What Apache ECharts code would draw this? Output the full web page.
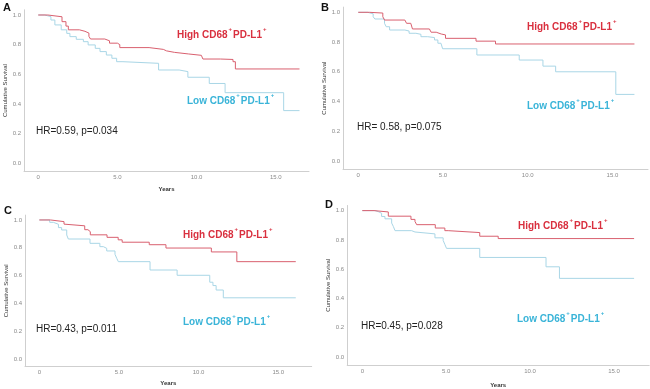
<!DOCTYPE html>
<html><head><meta charset="utf-8">
<script src="https://cdn.jsdelivr.net/npm/echarts@6/dist/echarts.min.js"></script>
<style>html,body{margin:0;padding:0;background:#fff}#c{width:650px;height:389px}</style>
</head><body><div id="c"></div>
<script>
// ---- data (time in years, cumulative survival) ----
const xTicks = [0, 5, 10, 15];
const yTicks = [0, 0.2, 0.4, 0.6, 0.8, 1.0];
const panelLetters = ['A', 'B', 'C', 'D'];
const hrTexts = ['HR=0.59, p=0.034', 'HR= 0.58, p=0.075', 'HR=0.43, p=0.011', 'HR=0.45, p=0.028'];

const A_high = [[0,1],[0.6,0.988],[1.5,0.955],[1.75,0.925],[1.9,0.9],[2.6,0.89],[2.95,0.878],[3.2,0.856],[3.3,0.838],[4.2,0.826],[4.5,0.81],[5.0,0.8],[5.15,0.78],[7.0,0.768],[7.9,0.758],[8.1,0.748],[8.6,0.737],[9.5,0.728],[10.3,0.718],[10.4,0.703],[11.5,0.7],[12.3,0.685],[12.45,0.636],[16.5,0.636]];
const A_low = [[0,1],[0.4,0.989],[0.8,0.966],[1.05,0.933],[1.45,0.9],[1.8,0.876],[2.0,0.854],[2.4,0.836],[2.85,0.82],[3.15,0.798],[3.6,0.775],[3.9,0.753],[4.3,0.73],[4.65,0.708],[4.95,0.685],[5.35,0.674],[7.6,0.629],[8.9,0.618],[9.45,0.58],[10.8,0.538],[11.8,0.476],[15.5,0.355],[16.5,0.355]];
const B_high = [[0,1],[0.65,0.995],[1.45,0.97],[1.55,0.948],[2.75,0.937],[2.85,0.926],[3.1,0.915],[3.2,0.888],[4.2,0.881],[4.3,0.866],[4.6,0.854],[4.9,0.848],[5.15,0.825],[6.95,0.806],[8.1,0.787],[16.3,0.787]];
const B_low = [[0,1],[0.55,0.99],[0.88,0.97],[0.98,0.955],[1.55,0.926],[1.65,0.903],[1.85,0.881],[2.75,0.874],[3.0,0.859],[3.4,0.852],[3.7,0.836],[4.1,0.83],[4.5,0.814],[4.7,0.792],[4.88,0.781],[4.98,0.755],[7.0,0.713],[9.5,0.679],[10.9,0.638],[11.65,0.6],[15.2,0.448],[16.3,0.448]];
const C_high = [[0,1],[0.7,0.988],[1.55,0.97],[1.65,0.958],[2.85,0.93],[3.05,0.916],[3.2,0.893],[4.25,0.875],[4.95,0.857],[5.2,0.84],[6.9,0.822],[7.95,0.798],[10.8,0.77],[12.4,0.7],[16.1,0.7]];
const C_low = [[0,1],[0.65,0.983],[0.88,0.969],[1.2,0.945],[1.4,0.928],[1.72,0.892],[1.82,0.863],[3.18,0.832],[3.8,0.808],[4.02,0.796],[4.23,0.777],[4.75,0.753],[4.86,0.724],[4.96,0.7],[6.95,0.64],[8.65,0.602],[10.7,0.552],[10.9,0.528],[11.1,0.496],[11.55,0.44],[16.1,0.44]];
const D_high = [[0,1],[0.7,0.991],[1.55,0.962],[2.9,0.94],[3.14,0.926],[3.24,0.904],[4.35,0.881],[4.92,0.863],[5.12,0.85],[7.0,0.825],[8.1,0.809],[16.2,0.809]];
const D_low = [[0,1],[0.76,0.993],[0.95,0.982],[1.15,0.96],[1.35,0.944],[1.75,0.915],[1.85,0.892],[1.95,0.863],[2.94,0.854],[3.14,0.841],[4.33,0.814],[4.82,0.796],[4.92,0.769],[5.02,0.742],[7.0,0.68],[10.95,0.616],[11.75,0.537],[16.2,0.537]];

const highSeries = [A_high, B_high, C_high, D_high];
const lowSeries = [A_low, B_low, C_low, D_low];

// ---- layout / style ----
const FONT = 'Arial, "Liberation Sans", sans-serif';
const HIGH_LINE = '#d9606f', LOW_LINE = '#a9d6e6';
const HIGH_TXT = '#d9303f', LOW_TXT = '#3ab4d8';
const grids = [
  {left: 24, top: 9.8, width: 285, height: 161.6},
  {left: 343, top: 7.1, width: 305, height: 162.1},
  {left: 25, top: 215.1, width: 286.7, height: 151.5},
  {left: 347.2, top: 205.5, width: 302, height: 161.6}
];
const showYears = [true, false, true, true];
const yearsGap = [15, 15, 14, 17];
const letterPos = [[3, 2], [321, 2], [4, 205], [325, 199]];
const highPos = [[177, 33], [527, 25], [183, 233], [518, 224]];
const lowPos = [[187, 99], [527, 104], [183, 320], [517, 317]];
const hrPos = [[36, 132], [357, 128], [36, 330], [361, 327]];

function richLabel(word, color) {
  return {
    text: '{a|' + word + ' CD68}{s|+}{a|PD-L1}{s|+}',
    rich: {
      a: {fontFamily: FONT, fontSize: 10, fontWeight: 'bold', fill: color, color: color, lineHeight: 14, verticalAlign: 'bottom'},
      s: {fontFamily: FONT, fontSize: 6, fontWeight: 'bold', fill: color, color: color, lineHeight: 14, verticalAlign: 'top', padding: [0, 1, 0, 1]}
    }
  };
}

const option = {
  animation: false,
  backgroundColor: '#fff',
  grid: grids.map(g => Object.assign({containLabel: false}, g)),
  xAxis: grids.map((g, i) => ({
    type: 'value', gridIndex: i, min: -0.9, max: 17.1,
    name: showYears[i] ? 'Years' : '', nameLocation: 'middle', nameGap: yearsGap[i],
    nameTextStyle: {fontFamily: FONT, fontSize: 6, fontWeight: 'bold', color: '#333'},
    axisLine: {show: true, onZero: false, lineStyle: {color: '#cfcfcf', width: 1}},
    axisTick: {show: false},
    splitLine: {show: false},
    axisLabel: {customValues: xTicks, fontFamily: FONT, fontSize: 6, color: '#8a8a8a', margin: 3,
      formatter: v => v === 0 ? '0' : v.toFixed(1)}
  })),
  yAxis: grids.map((g, i) => ({
    type: 'value', gridIndex: i, min: -0.055, max: 1.035,
    name: 'Cumulative Survival', nameLocation: 'middle', nameGap: 16, nameRotate: 90,
    nameTextStyle: {fontFamily: FONT, fontSize: 6, color: '#333'},
    axisLine: {show: true, onZero: false, lineStyle: {color: '#cfcfcf', width: 1}},
    axisTick: {show: false},
    splitLine: {show: false},
    axisLabel: {customValues: yTicks, fontFamily: FONT, fontSize: 6, color: '#8a8a8a', margin: 3,
      formatter: v => v.toFixed(1)}
  })),
  series: [].concat(
    highSeries.map((d, i) => ({type: 'line', xAxisIndex: i, yAxisIndex: i, step: 'end', data: d,
      symbol: 'none', lineStyle: {color: HIGH_LINE, width: 1}, z: 3})),
    lowSeries.map((d, i) => ({type: 'line', xAxisIndex: i, yAxisIndex: i, step: 'end', data: d,
      symbol: 'none', lineStyle: {color: LOW_LINE, width: 1}, z: 2}))
  ),
  graphic: [].concat(
    panelLetters.map((t, i) => ({type: 'text', left: letterPos[i][0], top: letterPos[i][1],
      style: {text: t, font: 'bold 11px ' + FONT, fill: '#111'}})),
    hrTexts.map((t, i) => ({type: 'text', left: hrPos[i][0], top: hrPos[i][1] - 6,
      style: {text: t, font: '10px ' + FONT, fill: '#222'}})),
    highPos.map((p, i) => ({type: 'text', left: p[0], top: p[1] - 7, style: richLabel('High', HIGH_TXT)})),
    lowPos.map((p, i) => ({type: 'text', left: p[0], top: p[1] - 7, style: richLabel('Low', LOW_TXT)}))
  )
};
const chart = echarts.init(document.getElementById('c'), null, {renderer: 'canvas'});
chart.setOption(option);
</script></body></html>
